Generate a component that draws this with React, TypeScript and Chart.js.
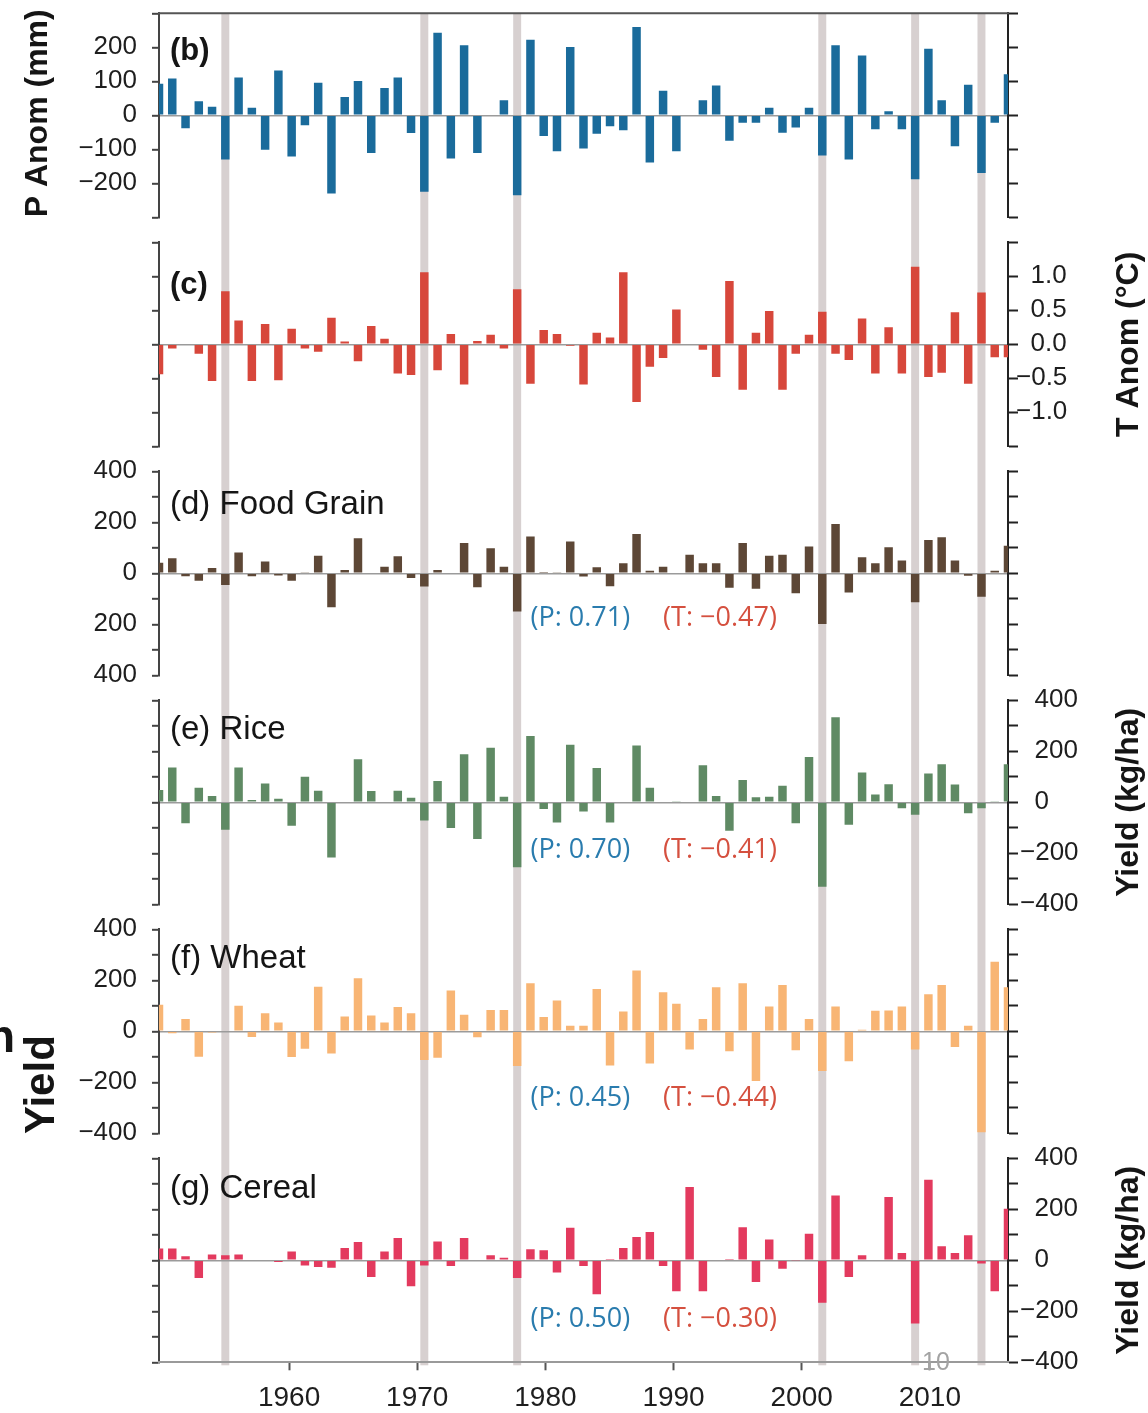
import React, { useEffect, useRef } from 'react';
import { Chart, registerables } from 'chart.js';

Chart.register(...registerables);

// ---------- data ----------
const years = [
  1952, 1953, 1954, 1955, 1956, 1957, 1958, 1959, 1960, 1961,
  1962, 1963, 1964, 1965, 1966, 1967, 1968, 1969, 1970, 1971,
  1972, 1973, 1974, 1975, 1976, 1977, 1978, 1979, 1980, 1981,
  1982, 1983, 1984, 1985, 1986, 1987, 1988, 1989, 1990, 1991,
  1992, 1993, 1994, 1995, 1996, 1997, 1998, 1999, 2000, 2001,
  2002, 2003, 2004, 2005, 2006, 2007, 2008, 2009, 2010, 2011,
  2012, 2013, 2014, 2015, 2016,
];

const highlightYears = [1957, 1972, 1979, 2002, 2009, 2014];

const xTickYears = [1960, 1970, 1980, 1990, 2000, 2010];

const precipAnomaly = [
  93, 108, -38, 41, 25, -130, 111, 22, -101, 132,
  -121, -29, 96, -230, 54, 101, -111, 80, 111, -52,
  -225, 243, -127, 206, -111, -2, 44, -235, 222, -61,
  -106, 201, -98, -54, -32, -44, 260, -139, 72, -106,
  -2, 44, 88, -75, -22, -22, 22, -51, -36, 22,
  -118, 206, -130, 176, -41, 12, -41, -188, 196, 44,
  -91, 90, -170, -22, 121,
];

const tempAnomaly = [
  -0.44, -0.06, -0.01, -0.14, -0.54, 0.78, 0.35, -0.54, 0.3, -0.53,
  0.23, -0.06, -0.11, 0.39, 0.04, -0.25, 0.27, 0.08, -0.43, -0.45,
  1.06, -0.38, 0.15, -0.59, 0.05, 0.14, -0.06, 0.81, -0.58, 0.21,
  0.15, -0.02, -0.59, 0.17, 0.1, 1.06, -0.85, -0.33, -0.2, 0.51,
  0.01, -0.08, -0.48, 0.93, -0.67, 0.17, 0.49, -0.67, -0.14, 0.14,
  0.48, -0.14, -0.23, 0.38, -0.43, 0.25, -0.43, 1.14, -0.48, -0.42,
  0.47, -0.58, 0.76, -0.19, -0.19,
];

const foodGrain = [
  41, 59, -12, -29, 21, -46, 82, -12, 46, -9,
  -29, 2, 69, -133, 13, 137, -3, 26, 67, -18,
  -52, 13, -3, 119, -55, 98, 26, -150, 144, 5,
  2, 125, -13, 24, -51, 39, 154, 10, 26, 0,
  73, 39, 39, -57, 119, -61, 69, 73, -78, 105,
  -199, 193, -75, 63, 39, 102, 50, -114, 131, 141,
  50, -10, -92, 10, 108,
];

const rice = [
  48, 136, -82, 57, 25, -108, 136, 9, 74, 14,
  -92, 100, 45, -216, 0, 169, 44, 0, 45, 18,
  -71, 84, -101, 188, -144, 214, 22, -255, 260, -26,
  -79, 226, -36, 135, -79, -3, 223, 57, 0, 4,
  -3, 145, 25, -112, 87, 20, 22, 65, -82, 178,
  -331, 334, -88, 117, 31, 71, -23, -49, 113, 149,
  70, -43, -23, 4, 149,
];

const wheat = [
  104, -8, 48, -100, -5, 0, 100, -22, 71, 35,
  -101, -68, 175, -87, 58, 208, 62, 35, 95, 71,
  -113, -104, 160, 65, -23, 84, 84, -136, 188, 56,
  121, 22, 22, 166, -134, 78, 238, -126, 153, 108,
  -71, 48, 173, -78, 188, -195, 97, 182, -74, 48,
  -156, 97, -117, 6, 81, 82, 97, -71, 145, 182,
  -62, 22, -396, 273, 173,
];

const cereal = [
  46, 46, 16, -69, 23, 20, 23, 0, 0, -7,
  35, -20, -26, -29, 48, 72, -65, 35, 87, -102,
  -20, 74, -22, 87, -3, 20, 10, -69, 43, 39,
  -48, 128, -22, -133, 5, 48, 91, 111, -22, -121,
  287, -121, -3, 5, 130, -85, 82, -33, -2, 104,
  -166, 254, -65, 20, 3, 248, 29, -248, 316, 55,
  29, 98, -13, -121, 202,
];

// ---------- styling / layout ----------
const FONT = '"Liberation Sans", Arial, sans-serif';
const CORR_FONT = '"Open Sans", "Noto Sans", sans-serif';
const PAGE_W = 1148;
const PAGE_H = 1413;
const LEFT_AXIS_W = 159;
const RIGHT_AXIS_W = 140;
const STEP = 229;
const PAD_TOP = 13.3;
const PLOT_H = 204;
const BAND_COLOR = '#d7d0d0';

type Panel = {
  id: string;
  values: number[];
  color: string;
  min: number;
  max: number;
  step: number;
  labelStep: number;
  hideEnds: boolean;
  decimals: boolean;
  leftLabels: boolean;
  rightLabels: boolean;
  rightPad: number;
  title: string;
  titleBold: boolean;
  titleDy: number;
  leftTitle?: string;
  rightTitle?: string;
  topBorder?: boolean;
  xAxis?: boolean;
  corr?: { p: string; t: string; y: number };
};

const panels: Panel[] = [
  {
    id: 'b', values: precipAnomaly, color: '#1a6b9b', min: -300, max: 300, step: 100, labelStep: 100,
    hideEnds: true, decimals: false, leftLabels: true, rightLabels: false, rightPad: 3,
    title: '(b)', titleBold: true, titleDy: 38, leftTitle: 'P Anom (mm)', topBorder: true,
  },
  {
    id: 'c', values: tempAnomaly, color: '#d7473b', min: -1.5, max: 1.5, step: 0.5, labelStep: 0.5,
    hideEnds: true, decimals: true, leftLabels: false, rightLabels: true, rightPad: -2,
    title: '(c)', titleBold: true, titleDy: 43, rightTitle: 'T Anom (°C)',
  },
  {
    id: 'd', values: foodGrain, color: '#5d4736', min: -400, max: 400, step: 100, labelStep: 200,
    hideEnds: false, decimals: false, leftLabels: true, rightLabels: false, rightPad: 3,
    title: '(d) Food Grain', titleBold: false, titleDy: 34,
    corr: { p: '(P: 0.71)', t: '(T: \u22120.47)', y: -176 },
  },
  {
    id: 'e', values: rice, color: '#5f8a64', min: -400, max: 400, step: 100, labelStep: 200,
    hideEnds: false, decimals: false, leftLabels: false, rightLabels: true, rightPad: 2,
    title: '(e) Rice', titleBold: false, titleDy: 30, rightTitle: 'Yield (kg/ha)',
    corr: { p: '(P: 0.70)', t: '(T: \u22120.41)', y: -187 },
  },
  {
    id: 'f', values: wheat, color: '#f8b574', min: -400, max: 400, step: 100, labelStep: 200,
    hideEnds: false, decimals: false, leftLabels: true, rightLabels: false, rightPad: 3,
    title: '(f) Wheat', titleBold: false, titleDy: 30,
    corr: { p: '(P: 0.45)', t: '(T: \u22120.44)', y: -262 },
  },
  {
    id: 'g', values: cereal, color: '#e33a5e', min: -400, max: 400, step: 100, labelStep: 200,
    hideEnds: false, decimals: false, leftLabels: false, rightLabels: true, rightPad: 2,
    title: '(g) Cereal', titleBold: false, titleDy: 31, rightTitle: 'Yield (kg/ha)', xAxis: true,
    corr: { p: '(P: 0.50)', t: '(T: \u22120.30)', y: -230 },
  },
];

function tickLabel(cfg: Panel, v: number, side: 'left' | 'right'): string {
  const show = side === 'left' ? cfg.leftLabels : cfg.rightLabels;
  if (!show) return '';
  const r = Math.round(v * 1000) / 1000;
  if (cfg.hideEnds && Math.abs(Math.abs(r) - cfg.max) < 1e-6) return '';
  const k = r / cfg.labelStep;
  if (Math.abs(k - Math.round(k)) > 1e-6) return '';
  let s = cfg.decimals ? Math.abs(r).toFixed(1) : String(Math.abs(r));
  if (r < -1e-9) s = '\u2212' + s;
  else if (side === 'right') s = '\u2007' + s;
  return s;
}

function makeDecor(cfg: Panel) {
  return {
    id: 'decor_' + cfg.id,
    beforeDraw(chart: any) {
      const { ctx, chartArea, scales } = chart;
      const xs = scales.x;
      const half = (xs.getPixelForValue(years[1]) - xs.getPixelForValue(years[0])) * 0.3;
      const top = cfg.topBorder ? chartArea.top : 0;
      const bottom = cfg.xAxis ? chartArea.bottom + 3 : chart.height;
      ctx.save();
      ctx.fillStyle = BAND_COLOR;
      highlightYears.forEach((yr) => {
        const px = xs.getPixelForValue(yr);
        ctx.fillRect(px - half, top, half * 2, bottom - top);
      });
      ctx.restore();
    },
    afterDraw(chart: any) {
      const { ctx, chartArea, scales } = chart;
      ctx.save();
      if (cfg.topBorder) {
        ctx.strokeStyle = '#555';
        ctx.lineWidth = 2;
        ctx.beginPath();
        ctx.moveTo(chartArea.left - 1, chartArea.top);
        ctx.lineTo(chartArea.right + 1, chartArea.top);
        ctx.stroke();
      }
      // panel title
      ctx.fillStyle = '#151515';
      ctx.textBaseline = 'middle';
      ctx.textAlign = 'left';
      ctx.font = cfg.titleBold ? `bold 31px ${FONT}` : `33px ${FONT}`;
      ctx.fillText(cfg.title, chartArea.left + 11, chartArea.top + cfg.titleDy);
      // correlation notes
      if (cfg.corr) {
        const yPix = scales.yl.getPixelForValue(cfg.corr.y);
        ctx.font = `27px ${CORR_FONT}`;
        ctx.fillStyle = '#2a7cae';
        ctx.fillText(cfg.corr.p, scales.x.getPixelForValue(1980), yPix);
        ctx.fillStyle = '#d5503f';
        ctx.fillText(cfg.corr.t, scales.x.getPixelForValue(1990), yPix);
      }
      // axis titles (reading bottom to top)
      const midY = (chartArea.top + chartArea.bottom) / 2;
      ctx.font = `bold 32px ${FONT}`;
      ctx.fillStyle = '#151515';
      ctx.textAlign = 'center';
      const drawRot = (text: string, x: number, y: number) => {
        ctx.save();
        ctx.translate(x, y);
        ctx.rotate(-Math.PI / 2);
        ctx.fillText(text, 0, 0);
        ctx.restore();
      };
      if (cfg.leftTitle) drawRot(cfg.leftTitle, 38, midY - 2);
      if (cfg.rightTitle) drawRot(cfg.rightTitle, 1129, midY);
      ctx.restore();
    },
  };
}

const noPad = (s: any) => {
  s.paddingTop = 0;
  s.paddingBottom = 0;
  s.paddingLeft = 0;
  s.paddingRight = 0;
};

function PanelChart({ cfg, index }: { cfg: Panel; index: number }) {
  const ref = useRef<HTMLCanvasElement>(null);
  const top = index * STEP;
  const height = cfg.xAxis ? PAGE_H - top : STEP;

  useEffect(() => {
    const canvas = ref.current;
    if (!canvas) return;
    const tickFont = { family: FONT, size: 26 };
    const isZero = (ctx: any) => ctx.tick && Math.abs(ctx.tick.value) < 1e-9;

    const scales: any = {
      x: {
        type: 'linear',
        display: false,
        min: years[0],
        max: years[years.length - 1],
        offset: false,
        grid: { offset: false },
      },
      yl: {
        type: 'linear',
        position: 'left',
        min: cfg.min,
        max: cfg.max,
        ticks: {
          stepSize: cfg.step,
          autoSkip: false,
          font: tickFont,
          color: '#1e1e1e',
          padding: 15,
          callback: (v: number) => tickLabel(cfg, v, 'left'),
        },
        grid: {
          display: true,
          offset: false,
          drawOnChartArea: true,
          drawTicks: true,
          tickLength: 7,
          tickWidth: 2,
          tickColor: '#444',
          color: (ctx: any) => (isZero(ctx) ? '#9b9b9b' : 'rgba(0,0,0,0)'),
          lineWidth: 1.6,
        },
        border: { display: true, color: '#444', width: 2 },
        afterFit: (s: any) => {
          s.width = LEFT_AXIS_W;
          noPad(s);
        },
      },
      yr: {
        type: 'linear',
        position: 'right',
        min: cfg.min,
        max: cfg.max,
        ticks: {
          stepSize: cfg.step,
          autoSkip: false,
          font: tickFont,
          color: '#1e1e1e',
          padding: cfg.rightPad,
          callback: (v: number) => tickLabel(cfg, v, 'right'),
        },
        grid: {
          display: true,
          offset: false,
          drawOnChartArea: false,
          drawTicks: true,
          tickLength: 10,
          tickWidth: 2,
          tickColor: '#222',
        },
        border: { display: true, color: '#222', width: 2 },
        afterFit: (s: any) => {
          s.width = RIGHT_AXIS_W;
          noPad(s);
        },
      },
    };

    if (cfg.xAxis) {
      scales.xt = {
        type: 'linear',
        axis: 'x',
        position: 'bottom',
        min: 1949.85,
        max: 2016.1,
        offset: false,
        afterBuildTicks: (s: any) => {
          s.ticks = xTickYears.map((v) => ({ value: v }));
        },
        ticks: {
          autoSkip: false,
          maxRotation: 0,
          font: { family: FONT, size: 28 },
          color: '#1e1e1e',
          padding: 11,
          callback: (v: number) => String(v),
        },
        grid: {
          display: true,
          offset: false,
          drawOnChartArea: false,
          drawTicks: true,
          tickLength: 8,
          tickWidth: 2,
          tickColor: '#555',
        },
        border: { display: true, color: '#9a9a9a', width: 2 },
        afterFit: (s: any) => {
          s.height = height - PAD_TOP - PLOT_H;
          noPad(s);
        },
      };
    }

    const chart = new Chart(canvas, {
      type: 'bar',
      data: {
        datasets: [
          {
            data: years.map((yr, i) => ({ x: yr, y: cfg.values[i] })),
            backgroundColor: cfg.color,
            barPercentage: 0.64,
            categoryPercentage: 1,
            xAxisID: 'x',
            yAxisID: 'yl',
            clip: 0,
          } as any,
        ],
      },
      options: {
        animation: false,
        responsive: false,
        maintainAspectRatio: false,
        devicePixelRatio: 1,
        events: [],
        layout: {
          padding: {
            top: PAD_TOP,
            bottom: cfg.xAxis ? 0 : height - PAD_TOP - PLOT_H,
            left: 0,
            right: 0,
          },
        },
        plugins: {
          legend: { display: false },
          tooltip: { enabled: false },
          title: { display: false },
        },
        scales,
      } as any,
      plugins: [makeDecor(cfg)],
    });
    return () => chart.destroy();
  }, []);

  return (
    <canvas
      ref={ref}
      width={PAGE_W}
      height={height}
      style={{ position: 'absolute', left: 0, top, width: PAGE_W, height, display: 'block' }}
    />
  );
}

export default function App() {
  return (
    <div
      style={{
        position: 'absolute',
        left: 0,
        top: 0,
        width: PAGE_W,
        height: PAGE_H,
        overflow: 'hidden',
        background: '#ffffff',
      }}
    >
      {panels.map((p, i) => (
        <PanelChart key={p.id} cfg={p} index={i} />
      ))}
      <div
        style={{
          position: 'absolute',
          left: 19,
          top: 1134,
          transformOrigin: '0 0',
          transform: 'rotate(-90deg)',
          font: `bold 42px ${FONT}`,
          lineHeight: '42px',
          whiteSpace: 'nowrap',
          color: '#151515',
        }}
      >
        Yield (kg/ha)
      </div>
      <div
        style={{
          position: 'absolute',
          left: 0,
          top: 459,
          width: 93,
          height: 563,
          background: '#ffffff',
        }}
      />
      <div
        style={{
          position: 'absolute',
          left: -13,
          top: 1013,
          font: `bold 46px ${FONT}`,
          lineHeight: '46px',
          color: '#151515',
        }}
      >
        n
      </div>
      <div
        style={{
          position: 'absolute',
          left: 922,
          top: 1347,
          font: `25px ${FONT}`,
          color: '#a3a3a3',
          lineHeight: 'normal',
        }}
      >
        10
      </div>
    </div>
  );
}
